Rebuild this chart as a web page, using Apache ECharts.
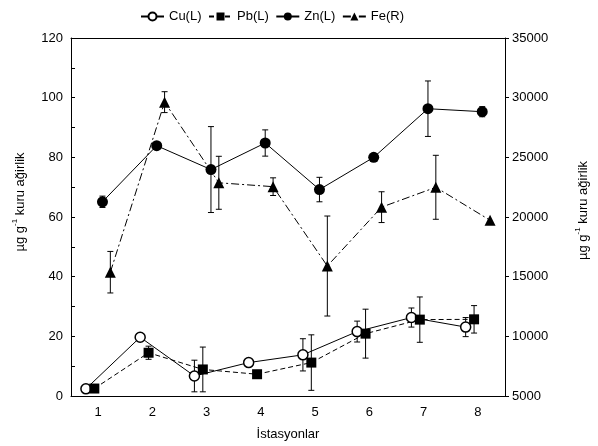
<!DOCTYPE html>
<html>
<head>
<meta charset="utf-8">
<script src="https://cdn.jsdelivr.net/npm/echarts@6/dist/echarts.min.js"></script>
<style>
  html, body { margin: 0; padding: 0; background: #fff; }
  #chart { width: 598px; height: 446px; }
</style>
</head>
<body>
<div id="chart"></div>
<script>
// istasyon numaralari
const stations = [1, 2, 3, 4, 5, 6, 7, 8];

// sol eksen (µg/g)
const cu = [2.4, 19.7, 6.7, 11.2, 13.8, 21.6, 26.3, 23.1];
const cuErr = [0, 0, 5.3, 0, 5.4, 3.5, 3.2, 3.2];
const pb = [2.5, 14.5, 8.9, 7.3, 11.2, 20.9, 25.6, 25.7];
const pbErr = [0, 2.2, 7.5, 0, 9.3, 8.2, 7.6, 4.6];
const zn = [65.1, 83.9, 75.9, 84.8, 69.2, 80.0, 96.3, 95.3];
const znErr = [1.9, 0, 14.4, 4.4, 4.1, 0, 9.3, 1.7];

// sag eksen (Fe)
const fe = [15375, 29625, 22867, 22542, 15892, 20825, 22490, 19725];
const feErr = [1740, 875, 2220, 740, 4190, 1290, 2680, 0];

const leftTicks = [0, 120, 10];
const rightTicks = [5000, 35000, 5000];

const font = 'Liberation Sans, Arial, sans-serif';
const black = '#000';

function pts(vals, shift) {
    return vals.map((v, i) => [stations[i] + shift, v]);
}
function errs(vals, e, shift) {
    return vals.map((v, i) => [stations[i] + shift, v - e[i], v + e[i]]).filter((d, i) => e[i] > 0);
}

function errorBars(data, yIdx) {
    return {
        type: 'custom',
        xAxisIndex: 2,
        yAxisIndex: yIdx,
        z: 2,
        silent: true,
        data: data,
        renderItem: (params, api) => {
            const lo = api.coord([api.value(0), api.value(1)]);
            const hi = api.coord([api.value(0), api.value(2)]);
            const w = 3;
            const st = { stroke: black, lineWidth: 1 };
            return {
                type: 'group',
                children: [
                    { type: 'line', shape: { x1: lo[0], y1: lo[1], x2: hi[0], y2: hi[1] }, style: st },
                    { type: 'line', shape: { x1: lo[0] - w, y1: lo[1], x2: lo[0] + w, y2: lo[1] }, style: st },
                    { type: 'line', shape: { x1: hi[0] - w, y1: hi[1], x2: hi[0] + w, y2: hi[1] }, style: st }
                ]
            };
        }
    };
}

function lineSeries(name, vals, shift, yIdx, symbol, size, dash, hollow) {
    return {
        name: name,
        type: 'line',
        xAxisIndex: 2,
        yAxisIndex: yIdx,
        z: 3,
        data: pts(vals, shift),
        symbol: symbol,
        symbolSize: size,
        showAllSymbol: true,
        lineStyle: { color: black, width: 1, type: dash },
        itemStyle: hollow
            ? { color: '#fff', borderColor: black, borderWidth: 1.5 }
            : { color: black, borderWidth: 0 },
        emphasis: { disabled: true },
        animation: false
    };
}

const catAxis = (pos, labels) => ({
    type: 'category',
    position: pos,
    data: stations.map(String),
    boundaryGap: true,
    axisLine: { lineStyle: { color: black, width: 1 } },
    axisTick: { inside: true, alignWithLabel: true, length: 4, lineStyle: { color: black } },
    axisLabel: { show: labels, color: black, fontFamily: font, fontSize: 13, margin: 10 },
    splitLine: { show: false },
    name: labels ? 'İstasyonlar' : '',
    nameLocation: 'middle',
    nameGap: 32,
    nameTextStyle: { color: black, fontFamily: font, fontSize: 13 }
});

const nameRich = {
    a: { fontFamily: font, fontSize: 13, color: black, lineHeight: 16, verticalAlign: 'bottom' },
    s: { fontFamily: font, fontSize: 8, color: black, lineHeight: 16, verticalAlign: 'top' }
};
const yName = '{a|µg g}{s|-1}{a| kuru ağirlik}';

const chart = echarts.init(document.getElementById('chart'), null, { renderer: 'canvas' });

const option = {
    backgroundColor: '#fff',
    animation: false,
    textStyle: { fontFamily: font },
    grid: { left: 71, right: 86, top: 38, bottom: 48 },
    legend: {
        left: 140,
        top: 10,
        padding: 0,
        itemGap: 6.5,
        itemWidth: 23,
        itemHeight: 10,
        textStyle: { color: black, fontFamily: font, fontSize: 13 },
        data: ['Cu(L)', 'Pb(L)', 'Zn(L)', 'Fe(R)']
    },
    xAxis: [
        catAxis('bottom', true),
        catAxis('top', false),
        { type: 'value', min: 0.5, max: 8.5, show: false }
    ],
    yAxis: [
        {
            type: 'value',
            position: 'left',
            min: leftTicks[0],
            max: leftTicks[1],
            interval: leftTicks[2],
            axisLine: { show: true, lineStyle: { color: black, width: 1 } },
            axisTick: { show: true, inside: true, length: 4, lineStyle: { color: black } },
            axisLabel: {
                color: black, fontFamily: font, fontSize: 13, margin: 8,
                formatter: v => (v % 20 === 0 ? String(v) : '')
            },
            splitLine: { show: false },
            name: yName,
            nameLocation: 'middle',
            nameRotate: 90,
            nameGap: 44,
            nameTextStyle: { rich: nameRich, padding: [0, 0, 0, 30] }
        },
        {
            type: 'value',
            position: 'right',
            min: rightTicks[0],
            max: rightTicks[1],
            interval: rightTicks[2],
            axisLine: { show: true, lineStyle: { color: black, width: 1 } },
            axisTick: { show: true, inside: false, length: 4, lineStyle: { color: black } },
            axisLabel: {
                color: black, fontFamily: font, fontSize: 13, margin: 7,
                formatter: v => String(v)
            },
            splitLine: { show: false },
            name: yName,
            nameLocation: 'middle',
            nameRotate: 90,
            nameGap: 69,
            nameTextStyle: { rich: nameRich, padding: [0, 0, 0, 13] }
        }
    ],
    series: [
        errorBars(errs(cu, cuErr, -0.225), 0),
        errorBars(errs(pb, pbErr, -0.07), 0),
        errorBars(errs(zn, znErr, 0.08), 0),
        errorBars(errs(fe, feErr, 0.225), 1),
        lineSeries('Cu(L)', cu, -0.225, 0, 'circle', 10, 'solid', true),
        lineSeries('Pb(L)', pb, -0.07, 0, 'rect', 10, [5, 3], false),
        lineSeries('Zn(L)', zn, 0.08, 0, 'circle', 11, 'solid', false),
        lineSeries('Fe(R)', fe, 0.225, 1, 'triangle', 11, [8, 3, 2, 3], false)
    ]
};

chart.setOption(option);
</script>
</body>
</html>
